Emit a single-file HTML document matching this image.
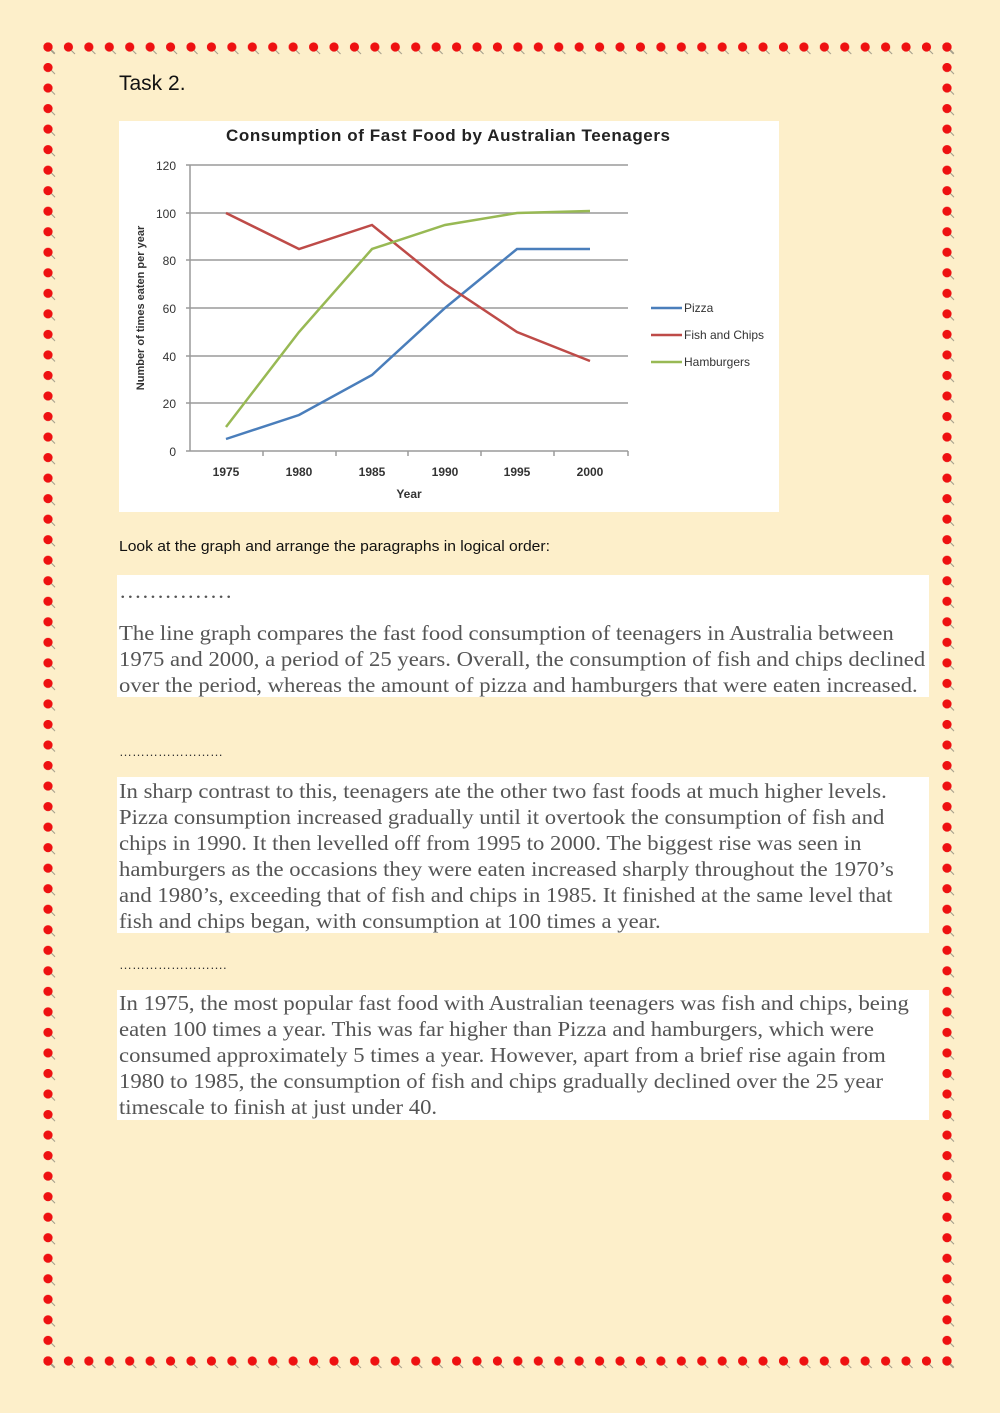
<!DOCTYPE html>
<html><head><meta charset="utf-8"><style>
body{margin:0;width:1000px;height:1413px;background:#fdefca;position:relative;overflow:hidden;font-family:"Liberation Sans",sans-serif}
.abs{position:absolute}
.box{position:absolute;left:117px;width:812px;background:#fff}
.p{position:absolute;left:119px;font-family:"Liberation Serif",serif;font-size:21px;color:#555;line-height:26px;white-space:nowrap;transform:scaleX(1.08);transform-origin:0 0}
</style></head><body>
<svg class="abs" style="left:0;top:0" width="1000" height="1413">
<defs>
<pattern id="h" patternUnits="userSpaceOnUse" x="43.5" y="0" width="20.43" height="1413">
<line x1="7" y1="50" x2="11" y2="54" stroke="#a09a88" stroke-width="1"/><circle cx="4.5" cy="47" r="4.6" fill="#ee1111"/></pattern>
<pattern id="hb" patternUnits="userSpaceOnUse" x="43.5" y="0" width="20.43" height="1413">
<line x1="7" y1="1364" x2="11" y2="1368" stroke="#a09a88" stroke-width="1"/><circle cx="4.5" cy="1361" r="4.6" fill="#ee1111"/></pattern>
<pattern id="v" patternUnits="userSpaceOnUse" x="0" y="42.5" width="1000" height="20.53">
<line x1="51" y1="7" x2="55" y2="11" stroke="#a09a88" stroke-width="1"/><circle cx="48" cy="4.5" r="4.6" fill="#ee1111"/>
<line x1="950" y1="7" x2="954" y2="11" stroke="#a09a88" stroke-width="1"/><circle cx="947" cy="4.5" r="4.6" fill="#ee1111"/></pattern>
</defs>
<rect x="42" y="38" width="916" height="20" fill="url(#h)"/>
<rect x="42" y="1352" width="916" height="22" fill="url(#hb)"/>
<rect x="0" y="40" width="1000" height="1330" fill="url(#v)"/>
</svg>
<div class="abs" style="left:119px;top:72px;font-size:21px;color:#111">Task 2.</div>
<svg class="abs" style="left:119px;top:121px" width="660" height="391">
<rect width="660" height="391" fill="#fff"/>
<g transform="translate(-119,-121)" font-family="Liberation Sans,sans-serif">
<text x="448" y="141" text-anchor="middle" font-size="17" font-weight="bold" fill="#222" textLength="444">Consumption of Fast Food by Australian Teenagers</text>
<g stroke="#9a9a9a" stroke-width="1.5">
<line x1="186" y1="165" x2="628" y2="165"/><line x1="186" y1="213" x2="628" y2="213"/><line x1="186" y1="260" x2="628" y2="260"/><line x1="186" y1="308" x2="628" y2="308"/><line x1="186" y1="356" x2="628" y2="356"/><line x1="186" y1="403" x2="628" y2="403"/><line x1="186" y1="451" x2="628" y2="451"/>
<line x1="190" y1="165" x2="190" y2="451"/>
<line x1="263" y1="451" x2="263" y2="456"/><line x1="336" y1="451" x2="336" y2="456"/><line x1="408" y1="451" x2="408" y2="456"/><line x1="481" y1="451" x2="481" y2="456"/><line x1="554" y1="451" x2="554" y2="456"/><line x1="628" y1="451" x2="628" y2="456"/>
</g>
<g font-size="12" fill="#333" text-anchor="end">
<text x="176" y="170">120</text><text x="176" y="218">100</text><text x="176" y="265">80</text><text x="176" y="313">60</text><text x="176" y="361">40</text><text x="176" y="408">20</text><text x="176" y="456">0</text></g>
<g font-size="12" fill="#333" text-anchor="middle" font-weight="bold">
<text x="226" y="476">1975</text><text x="299" y="476">1980</text><text x="372" y="476">1985</text><text x="445" y="476">1990</text><text x="517" y="476">1995</text><text x="590" y="476">2000</text>
<text x="409" y="498">Year</text>
<text transform="translate(144,308) rotate(-90)" font-size="11">Number of times eaten per year</text></g>
<polyline fill="none" stroke="#4a7ebb" stroke-width="2.5" points="226,439 299,415 372,375 445,308 517,249 590,249"/>
<polyline fill="none" stroke="#be4b48" stroke-width="2.5" points="226,213 299,249 372,225 445,284 517,332 590,361"/>
<polyline fill="none" stroke="#98b954" stroke-width="2.5" points="226,427 299,332 372,249 445,225 517,213 590,211"/>
<g stroke-width="2.5"><line x1="651" y1="308" x2="682" y2="308" stroke="#4a7ebb"/><line x1="651" y1="335" x2="682" y2="335" stroke="#be4b48"/><line x1="651" y1="362" x2="682" y2="362" stroke="#98b954"/></g>
<g font-size="12" fill="#333"><text x="684" y="312">Pizza</text><text x="684" y="339">Fish and Chips</text><text x="684" y="366">Hamburgers</text></g>
</g></svg>
<div class="abs" style="left:119px;top:539px;font-size:14.5px;color:#111;transform:scaleX(1.08);transform-origin:0 0">Look at the graph and arrange the paragraphs in logical order:</div>
<div class="box" style="top:575px;height:122px"></div>
<div class="p" style="top:578px">……………</div>
<div class="p" style="top:620px">The line graph compares the fast food consumption of teenagers in Australia between<br>1975 and 2000, a period of 25 years. Overall, the consumption of fish and chips declined<br>over the period, whereas the amount of pizza and hamburgers that were eaten increased.</div>
<div class="abs" style="left:119px;top:744px;font-size:13px;color:#333">……………………</div>
<div class="box" style="top:777px;height:156px"></div>
<div class="p" style="top:778px">In sharp contrast to this, teenagers ate the other two fast foods at much higher levels.<br>Pizza consumption increased gradually until it overtook the consumption of fish and<br>chips in 1990. It then levelled off from 1995 to 2000. The biggest rise was seen in<br>hamburgers as the occasions they were eaten increased sharply throughout the 1970’s<br>and 1980’s, exceeding that of fish and chips in 1985. It finished at the same level that<br>fish and chips began, with consumption at 100 times a year.</div>
<div class="abs" style="left:119px;top:957px;font-size:13px;color:#333">…………………….</div>
<div class="box" style="top:990px;height:130px"></div>
<div class="p" style="top:990px">In 1975, the most popular fast food with Australian teenagers was fish and chips, being<br>eaten 100 times a year. This was far higher than Pizza and hamburgers, which were<br>consumed approximately 5 times a year. However, apart from a brief rise again from<br>1980 to 1985, the consumption of fish and chips gradually declined over the 25 year<br>timescale to finish at just under 40.</div>
</body></html>
